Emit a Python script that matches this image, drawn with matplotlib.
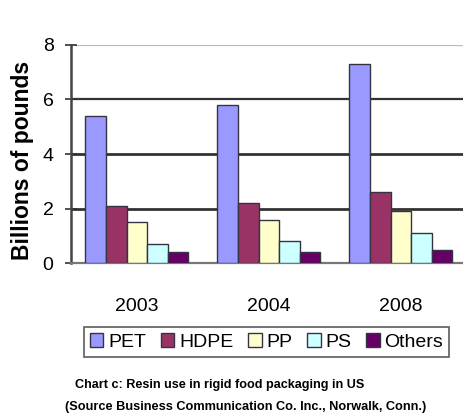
import matplotlib.pyplot as plt
import numpy as np

plt.rcParams['font.family'] = ['Liberation Sans', 'DejaVu Sans']

# values (billions of pounds)
years = ['2003', '2004', '2008']
resins = ['PET', 'HDPE', 'PP', 'PS', 'Others']
pet = [5.4, 5.8, 7.3]
hdpe = [2.1, 2.2, 2.6]
pp = [1.5, 1.6, 1.9]
ps = [0.7, 0.8, 1.1]
others = [0.4, 0.4, 0.5]
colours = ['#9999FF', '#993366', '#FFFFCC', '#CCFFFF', '#660066']

fig = plt.figure(figsize=(4.63, 4.19), dpi=100)
ax = fig.add_axes([0.1533, 0.3716, 0.8467, 0.5217])

x = np.arange(len(years))
w = 0.156
series = [pet, hdpe, pp, ps, others]
for i, (vals, col, name) in enumerate(zip(series, colours, resins)):
    ax.bar(x + (i - 2) * w, vals, w, color=col, edgecolor='#333344',
           linewidth=1.0, label=name, zorder=3)

ax.set_xlim(-0.5, 2.47)
ax.set_ylim(0, 8)
ax.set_yticks([0, 2, 4, 6, 8])
ax.set_xticks(x)
ax.set_xticklabels(years, fontsize=14)
ax.tick_params(axis='x', length=0, pad=25)
ax.tick_params(axis='y', direction='inout', length=9, width=1.2,
               color='#333333', labelsize=14, pad=8)
for y, c, lw in [(2, '#333333', 2), (4, '#333333', 2), (6, '#333333', 1.6),
                 (8, '#bbbbbb', 1.6)]:
    ax.axhline(y, color=c, lw=lw, zorder=1)

ax.spines['top'].set_visible(False)
ax.spines['right'].set_visible(False)
ax.spines['left'].set_color('#444444')
ax.spines['left'].set_linewidth(1.8)
ax.spines['bottom'].set_color('#777777')
ax.spines['bottom'].set_linewidth(1.6)

ax.set_ylabel('Billions of pounds', fontsize=16.5, fontweight='bold')
ax.yaxis.set_label_coords(-(71 - 34) / 392, 0.47)

leg = fig.legend(loc='center', bbox_to_anchor=(266.5 / 463, 1 - 342 / 419),
                 ncol=5, fontsize=14, frameon=True, fancybox=False,
                 handlelength=0.7, handleheight=0.7, handletextpad=0.25,
                 columnspacing=0.75, borderpad=0.3, borderaxespad=0,
                 edgecolor='#333333')
leg.get_frame().set_linewidth(1.2)

# caption lines, squeezed to the widths seen in the reference
captions = [('Chart c: Resin use in rigid food packaging in US', 75, 385, 290),
            ('(Source Business Communication Co. Inc., Norwalk, Conn.)', 65, 407, 360)]
renderer = fig.canvas.get_renderer()
for txt, x0, yc, width in captions:
    t = fig.text(x0 / 463, 1 - yc / 419, txt, fontsize=10, fontweight='bold',
                 va='center', ha='left')
    wpx = t.get_window_extent(renderer).width
    t.set_fontsize(10 * width / wpx)

fig.savefig('out.png', dpi=100)
